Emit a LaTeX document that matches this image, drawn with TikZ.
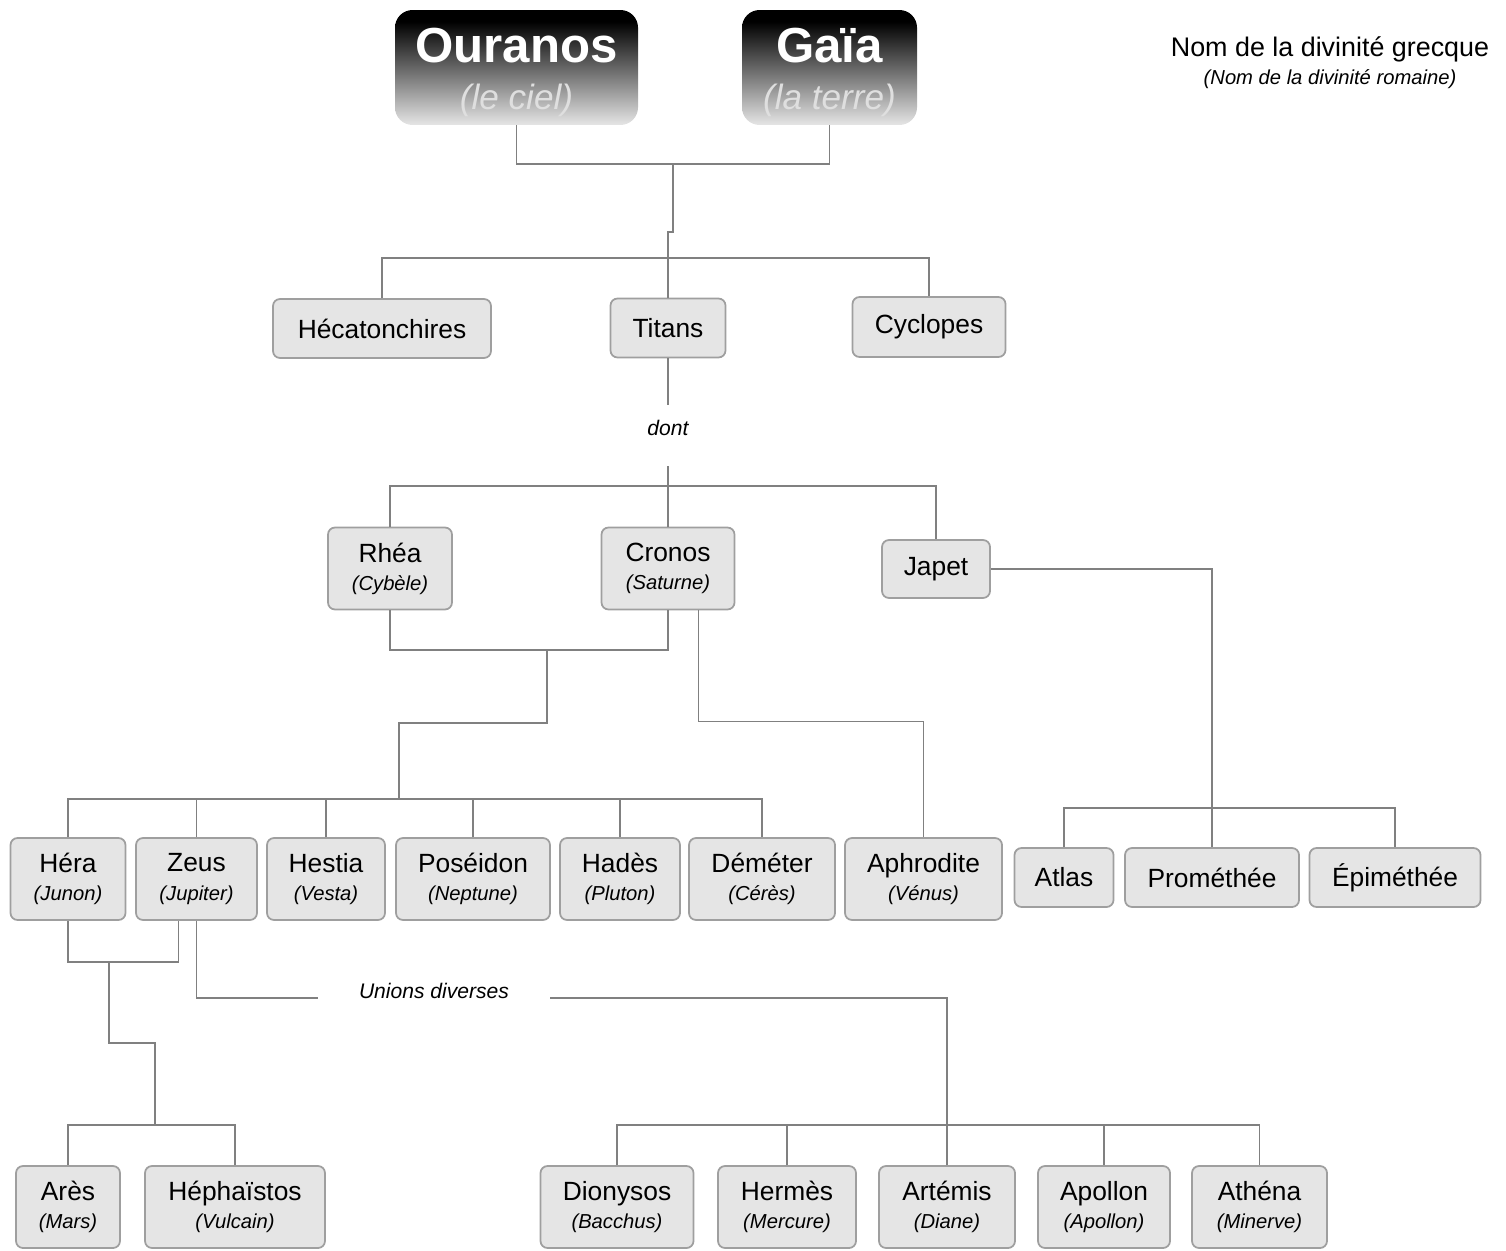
\documentclass[tikz,border=0pt]{standalone}
\usepackage{fontspec}
\setmainfont{Liberation Sans}
\newcommand{\rom}[1]{{\fontsize{11.5}{16}\selectfont\itshape (#1)}}
\pgfdeclareverticalshading{skyshade}{100bp}{color(0bp)=(white!92!black);
  color(25bp)=(white!90!black); color(70bp)=(black); color(100bp)=(black)}

\begin{document}
\begin{tikzpicture}[x=0.02cm, y=-0.02cm,
    god/.style={draw=gray!75, line width=1pt, fill=gray!20, rounded corners=4pt,
      align=center, inner sep=0pt, minimum height=1.18cm,
      font=\fontsize{15}{16}\selectfont},
    pair/.style={god, minimum height=1.64cm},
    bw/.style={minimum width=#1*0.02cm},
    sky/.style={rounded corners=10pt, shading=skyshade,
      text=white, align=center, inner sep=0pt, minimum height=2.3cm,
      text height=52pt, font=\bfseries\fontsize{28}{27}\selectfont},
    note/.style={inner sep=0pt, text height=0pt, text depth=0pt,
      font=\fontsize{12}{14}\selectfont\itshape},
    link/.style={draw=gray, line width=0.8pt}]
    \useasboundingbox (0,0) rectangle (1506,1250);

    % Draw the two first gods
    \node[sky, bw=243] (ouranos) at (516.5,67.5) {Ouranos\\{\mdseries\itshape\fontsize{20}{24}\selectfont\color{gray!25}(le ciel)}};
    \node[sky, bw=175] (gaia) at (829.5,67.5) {Gaïa\\{\mdseries\itshape\fontsize{20}{24}\selectfont\color{gray!25}(la terre)}};

    % Legend
    \node[font=\fontsize{15.3}{16}\selectfont] (legend) at (1330,49) {Nom de la divinité grecque};
    \node (legendrom) at (1330,79) {\rom{Nom de la divinité romaine}};

    % Their children
    \node[god, bw=218] (heca) at (382,328.5) {Hécatonchires};
    \node[god, bw=115] (titans) at (668,328) {Titans};
    \node[god, bw=153, minimum height=1.2cm] (cyclo) at (929,327) {Cyclopes};

    \coordinate (og) at (673,164);
    \coordinate (kids1) at (668,258);
    \draw[link] (ouranos.south) |- (og) -| (gaia.south);
    \draw[link] (og) -- ++(0,68) -| (kids1);
    \draw[link] (heca.north) |- (kids1) -| (cyclo.north);
    \draw[link] (kids1) -- (titans.north);

    % Some of the Titans
    \node[note, minimum height=1.22cm] (dont) at (668,435.5) {dont};
    \node[pair, bw=124] (rhea) at (390,568.5) {Rhéa\\\rom{Cybèle}};
    \node[pair, bw=133] (cronos) at (668,568.5) {Cronos\\\rom{Saturne}};
    \node[god, bw=108, minimum height=1.16cm] (japet) at (936,569) {Japet};

    \coordinate (kids2) at (668,486);
    \draw[link] (titans.south) -- (dont.north);
    \draw[link] (rhea.north) |- (kids2) -| (japet.north);
    \draw[link] (dont.south) -- (cronos.north);

    % Children of Rhea and Cronos
    \node[pair, bw=115] (hera) at (68,879) {Héra\\\rom{Junon}};
    \node[pair, bw=121] (zeus) at (196.5,879) {Zeus\\\rom{Jupiter}};
    \node[pair, bw=118] (hestia) at (326,879) {Hestia\\\rom{Vesta}};
    \node[pair, bw=154] (poseidon) at (473,879) {Poséidon\\\rom{Neptune}};
    \node[pair, bw=120] (hades) at (620,879) {Hadès\\\rom{Pluton}};
    \node[pair, bw=146] (demeter) at (762,879) {Déméter\\\rom{Cérès}};
    \node[pair, bw=157] (aphro) at (923.5,879) {Aphrodite\\\rom{Vénus}};

    \coordinate (rc) at (547,650);
    \coordinate (kids3) at (399,799);
    \draw[link] (rhea.south) |- (rc) -| (cronos.south);
    \draw[link] (rc) -- ++(0,73) -| (kids3);
    \draw[link] (hera.north) |- (kids3) -| (demeter.north);
    \foreach \n in {zeus,hestia,poseidon,hades}
      \draw[link] (\n.north) -- (\n.north |- kids3);
    \draw[link] (cronos.-54) -- ++(0,111) -| (aphro.north);

    % Children of Japet
    \node[god, bw=99] (atlas) at (1064,877.5) {Atlas};
    \node[god, bw=174] (prom) at (1212,877.5) {Prométhée};
    \node[god, bw=171] (epim) at (1395,877.5) {Épiméthée};

    \coordinate (kids5) at (1212,808);
    \draw[link] (japet.east) -| (prom.north);
    \draw[link] (atlas.north) |- (kids5) -| (epim.north);

    % Children of Hera and Zeus
    \node[pair, bw=104] (ares) at (68,1207) {Arès\\\rom{Mars}};
    \node[pair, bw=180] (heph) at (235,1207) {Héphaïstos\\\rom{Vulcain}};

    \coordinate (hz) at (109,962);
    \coordinate (kids4) at (155,1125);
    \draw[link] (hera.south) |- (hz) -| (zeus.247);
    \draw[link] (hz) -- ++(0,81) -| (kids4);
    \draw[link] (ares.north) |- (kids4) -| (heph.north);

    % Other children of Zeus
    \node[note, minimum width=4.64cm] (unions) at (434,998) {Unions diverses};
    \node[pair, bw=153] (dionysos) at (617,1207) {Dionysos\\\rom{Bacchus}};
    \node[pair, bw=138] (hermes) at (787,1207) {Hermès\\\rom{Mercure}};
    \node[pair, bw=136] (artemis) at (947,1207) {Artémis\\\rom{Diane}};
    \node[pair, bw=132] (apollon) at (1104,1207) {Apollon\\\rom{Apollon}};
    \node[pair, bw=135] (athena) at (1259.5,1207) {Athéna\\\rom{Minerve}};

    \coordinate (kids6) at (947,1125);
    \draw[link] (zeus.south) |- (unions.west);
    \draw[link] (unions.east) -| (kids6);
    \draw[link] (dionysos.north) |- (kids6) -| (athena.north);
    \foreach \n in {hermes,artemis,apollon}
      \draw[link] (\n.north) -- (\n.north |- kids6);
\end{tikzpicture}
\end{document}
